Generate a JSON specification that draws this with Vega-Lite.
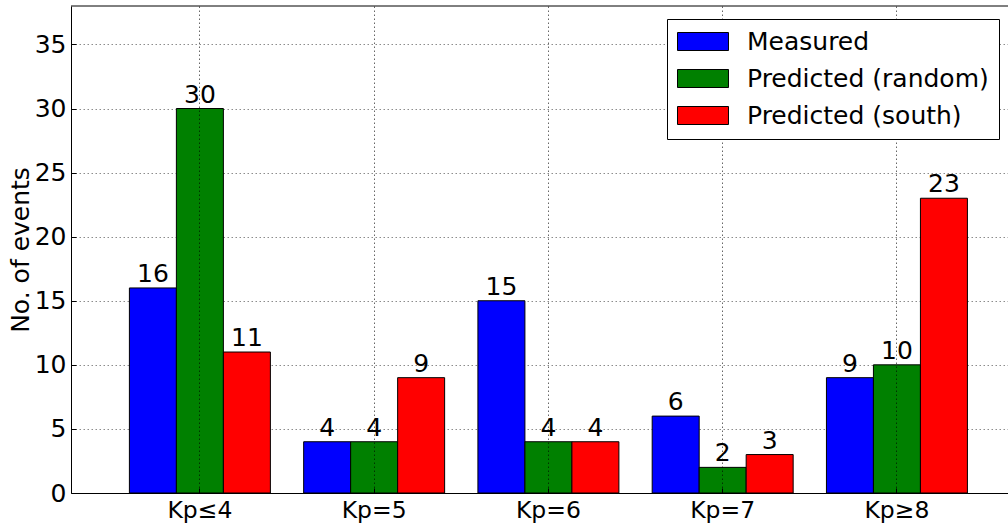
{
  "$schema": "https://vega.github.io/schema/vega-lite/v6.json",
  "width": 937,
  "height": 487,
  "autosize": {"type": "none"},
  "padding": {"left": 71, "top": 6, "right": 0, "bottom": 35},
  "background": "white",
  "config": {"view": {"stroke": null}, "font": "DejaVu Sans"},
  "data": {
    "values": [
      {"group": "Kp≤4", "series": "Measured", "count": 16},
      {"group": "Kp≤4", "series": "Predicted (random)", "count": 30},
      {"group": "Kp≤4", "series": "Predicted (south)", "count": 11},
      {"group": "Kp=5", "series": "Measured", "count": 4},
      {"group": "Kp=5", "series": "Predicted (random)", "count": 4},
      {"group": "Kp=5", "series": "Predicted (south)", "count": 9},
      {"group": "Kp=6", "series": "Measured", "count": 15},
      {"group": "Kp=6", "series": "Predicted (random)", "count": 4},
      {"group": "Kp=6", "series": "Predicted (south)", "count": 4},
      {"group": "Kp=7", "series": "Measured", "count": 6},
      {"group": "Kp=7", "series": "Predicted (random)", "count": 2},
      {"group": "Kp=7", "series": "Predicted (south)", "count": 3},
      {"group": "Kp≥8", "series": "Measured", "count": 9},
      {"group": "Kp≥8", "series": "Predicted (random)", "count": 10},
      {"group": "Kp≥8", "series": "Predicted (south)", "count": 23}
    ]
  },
  "layer": [
    {
      "mark": {"type": "bar", "stroke": "black", "strokeWidth": 1, "opacity": 1},
      "encoding": {
        "x": {
          "field": "group",
          "type": "nominal",
          "sort": ["Kp≤4", "Kp=5", "Kp=6", "Kp=7", "Kp≥8"],
          "scale": {"paddingInner": 0.191, "paddingOuter": 0.284, "align": 0.59},
          "axis": {
            "title": null,
            "labelAngle": 0,
            "labelFontSize": 23.5,
            "labelColor": "black",
            "labelFont": "DejaVu Sans",
            "labelBaseline": "top",
            "labelPadding": 10,
            "grid": true,
            "gridColor": "black",
            "gridOpacity": 0.6,
            "gridDash": [1.5, 2.5],
            "gridWidth": 1,
            "bandPosition": 0.5,
            "ticks": true,
            "tickSize": -5,
            "tickColor": "black",
            "domainColor": "black",
            "domainWidth": 1,
            "zindex": 1
          }
        },
        "xOffset": {
          "field": "series",
          "type": "nominal",
          "sort": ["Measured", "Predicted (random)", "Predicted (south)"],
          "scale": {"paddingInner": 0, "paddingOuter": 0}
        },
        "y": {
          "field": "count",
          "type": "quantitative",
          "scale": {"domain": [0, 38], "nice": false, "zero": true},
          "axis": {
            "title": "No. of events",
            "values": [0, 5, 10, 15, 20, 25, 30, 35],
            "labelFontSize": 25,
            "labelColor": "black",
            "labelFont": "DejaVu Sans",
            "labelPadding": 10,
            "grid": true,
            "gridColor": "black",
            "gridOpacity": 0.45,
            "gridDash": [1.5, 2.5],
            "gridWidth": 1,
            "ticks": true,
            "tickSize": -5,
            "tickColor": "black",
            "domainColor": "black",
            "domainWidth": 1,
            "titleFont": "DejaVu Sans",
            "titleFontSize": 25,
            "titleFontWeight": "normal",
            "titleColor": "black",
            "titleAngle": -90,
            "titleAlign": "center",
            "titleBaseline": "alphabetic",
            "titleX": -42.5,
            "titleY": 243.5
          }
        },
        "color": {
          "field": "series",
          "type": "nominal",
          "sort": ["Measured", "Predicted (random)", "Predicted (south)"],
          "scale": {
            "domain": ["Measured", "Predicted (random)", "Predicted (south)"],
            "range": ["#0000ff", "#008000", "#ff0000"]
          },
          "legend": {
            "orient": "none",
            "legendX": 596,
            "legendY": 13,
            "title": null,
            "symbolType": "M-2.833,-1H2.833V1H-2.833Z",
            "symbolSize": 324,
            "symbolOffset": 13.5,
            "symbolStrokeColor": "black",
            "symbolStrokeWidth": 1,
            "symbolOpacity": 1,
            "labelFontSize": 25,
            "labelFont": "DejaVu Sans",
            "labelColor": "black",
            "labelOffset": 31.5,
            "labelLimit": 400,
            "rowPadding": 11,
            "padding": 10,
            "strokeColor": "black",
            "fillColor": "white",
            "cornerRadius": 0,
            "zindex": 2
          }
        }
      }
    },
    {
      "mark": {"type": "text", "baseline": "alphabetic", "align": "center", "dy": -6, "fontSize": 25, "font": "DejaVu Sans", "color": "black"},
      "encoding": {
        "x": {"field": "group", "type": "nominal", "sort": ["Kp≤4", "Kp=5", "Kp=6", "Kp=7", "Kp≥8"]},
        "xOffset": {"field": "series", "type": "nominal", "sort": ["Measured", "Predicted (random)", "Predicted (south)"]},
        "y": {"field": "count", "type": "quantitative"},
        "text": {"field": "count", "type": "quantitative"}
      }
    },
    {
      "data": {"values": [{"top": 38}]},
      "mark": {"type": "rule", "color": "black", "strokeWidth": 1},
      "encoding": {"y": {"field": "top", "type": "quantitative"}}
    }
  ]
}
